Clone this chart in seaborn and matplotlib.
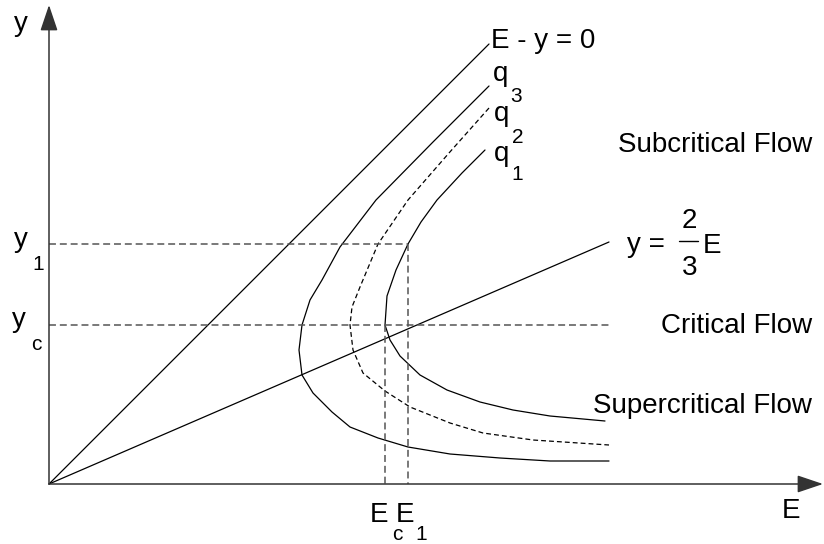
import matplotlib
matplotlib.use("Agg")
import matplotlib.pyplot as plt
import seaborn as sns
from matplotlib.lines import Line2D

# Specific energy diagram: depth y against specific energy E (drawing units)
line_Ey0_E = [0, 440]
line_Ey0_y = [0, 440]

line_23_E = [0, 560]
line_23_y = [0, 242]

q1_E = [436, 413, 388, 372, 359, 347, 338, 336, 341, 351, 371, 398, 431, 464, 501, 556]
q1_y = [334, 311, 284, 262, 240, 214, 188, 159, 144, 128, 109, 94, 82, 74, 68, 63]

q2_E = [440, 400, 359, 329, 311, 303, 301, 304, 314, 336, 361, 401, 434, 484, 560]
q2_y = [376, 331, 284, 240, 197, 177, 159, 134, 111, 93, 77, 61, 51, 44, 39]

q3_E = [440, 384, 327, 291, 273, 261, 253, 250, 253, 264, 283, 301, 329, 359, 401, 451, 501, 560]
q3_y = [398, 342, 284, 237, 204, 184, 159, 134, 109, 91, 72, 57, 46, 37, 30, 26, 23, 23]

# Reference depths / energies
y_1, E_1 = 240, 359
y_c, E_c = 159, 336
yc_line_end = 560

E_axis_max = 774
y_axis_max = 479

sns.set_theme(style="white")
plt.rcParams["font.family"] = ["Liberation Sans", "DejaVu Sans"]
plt.rcParams["lines.scale_dashes"] = False

fig = plt.figure(figsize=(8.24, 5.44), dpi=100)
ax = fig.add_axes([0, 0, 1, 1])
ax.set_xlim(-49, 775)
ax.set_ylim(-60, 484)
ax.axis("off")

curve_kw = dict(color="black", lw=0.9, sort=False, estimator=None, ax=ax)
sns.lineplot(x=line_Ey0_E, y=line_Ey0_y, **curve_kw)
sns.lineplot(x=line_23_E, y=line_23_y, **curve_kw)
sns.lineplot(x=q3_E, y=q3_y, **curve_kw)
sns.lineplot(x=q1_E, y=q1_y, **curve_kw)
sns.lineplot(x=q2_E, y=q2_y, linestyle=(0, (3.5, 2.2)), **curve_kw)

guide_kw = dict(color="#555555", lw=1.1, sort=False, estimator=None, ax=ax,
                linestyle=(0, (5, 2.8)))
sns.lineplot(x=[0, E_1], y=[y_1, y_1], **guide_kw)
sns.lineplot(x=[E_1, E_1], y=[y_1, 0], **guide_kw)
sns.lineplot(x=[0, yc_line_end], y=[y_c, y_c], **guide_kw)
sns.lineplot(x=[E_c, E_c], y=[y_c, 0], **guide_kw)

# Coordinate axes with arrowheads
arrow_kw = dict(arrowstyle="-|>,head_length=0.8,head_width=0.27", mutation_scale=20,
                lw=1.1, color="#333333", shrinkA=0, shrinkB=0)
ax.annotate("", xy=(0, y_axis_max), xytext=(0, 0), arrowprops=arrow_kw)
ax.annotate("", xy=(E_axis_max, 0), xytext=(0, 0), arrowprops=arrow_kw)

main = 20
sub = 15
tk = dict(color="black", va="baseline")

ax.text(-35, 453, "y", fontsize=main, **tk)
ax.text(733, -34, "E", fontsize=main, **tk)
ax.text(442, 436, "E - y = 0", fontsize=main, **tk)

# discharge labels
ax.text(444, 403, "q", fontsize=main, **tk)
ax.text(461, 382, "3", fontsize=sub, **tk)
ax.text(445, 363, "q", fontsize=main, **tk)
ax.text(463, 341, "2", fontsize=sub, **tk)
ax.text(445, 323, "q", fontsize=main, **tk)
ax.text(462, 304, "1", fontsize=sub, **tk)

ax.text(666, 332, "Subcritical Flow", fontsize=main, ha="center", **tk)
ax.text(688, 151, "Critical Flow", fontsize=main, ha="center", **tk)
ax.text(653, 71, "Supercritical Flow", fontsize=main, ha="center", **tk)

# y = (2/3) E
ax.text(578, 232, "y =", fontsize=main, **tk)
ax.text(640.5, 256, "2", fontsize=main, ha="center", **tk)
ax.text(640.5, 209, "3", fontsize=main, ha="center", **tk)
ax.add_line(Line2D([630, 649], [243, 243], color="black", lw=1.0))
ax.text(654, 231, "E", fontsize=main, **tk)

# depth labels
ax.text(-35, 237, "y", fontsize=main, **tk)
ax.text(-17, 214, "1", fontsize=sub, **tk)
ax.text(-37, 157, "y", fontsize=main, **tk)
ax.text(-18, 134, "c", fontsize=sub, **tk)

# energy labels
ax.text(321, -38, "E", fontsize=main, **tk)
ax.text(343, -56, "c", fontsize=sub, **tk)
ax.text(347, -38, "E", fontsize=main, **tk)
ax.text(366, -56, "1", fontsize=sub, **tk)

fig.savefig("out.png", dpi=100)
